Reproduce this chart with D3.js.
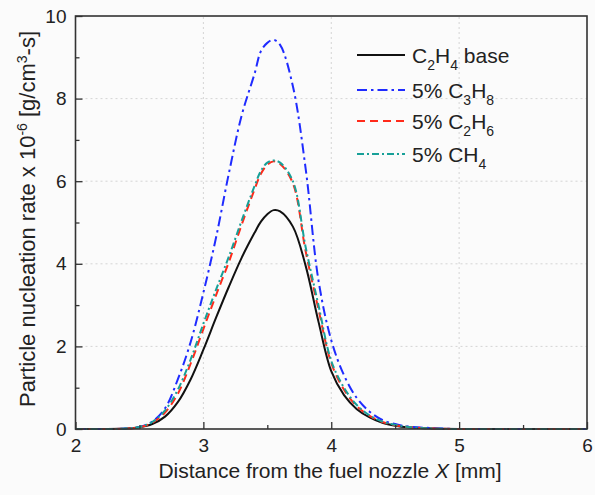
<!DOCTYPE html>
<html>
<head>
<meta charset="utf-8">
<script src="https://cdn.jsdelivr.net/npm/d3@7"></script>
<style>
  body { margin: 0; background: #fbfbfb; }
  svg { display: block; }
  text { font-family: "Liberation Sans", Arial, sans-serif; fill: #222; }
</style>
</head>
<body>
<div id="chart"></div>
<script>
// distance from nozzle [mm]
var xs = [2.0, 2.2, 2.4, 2.5, 2.6, 2.7, 2.8, 2.9, 3.0, 3.1, 3.2, 3.3, 3.4, 3.45, 3.5, 3.55, 3.6, 3.7, 3.8, 3.9, 4.0, 4.1, 4.2, 4.3, 4.4, 4.5, 4.6, 4.8, 5.0, 5.5, 6.0];

// nucleation rate x 1e-6
var baseC2H4 = [0, 0, 0.01, 0.04, 0.12, 0.3, 0.65, 1.2, 1.92, 2.7, 3.45, 4.15, 4.75, 5.02, 5.2, 5.3, 5.27, 4.9, 3.95, 2.6, 1.4, 0.82, 0.48, 0.28, 0.15, 0.08, 0.04, 0.01, 0, 0, 0];
var addC3H8  = [0, 0, 0.01, 0.05, 0.18, 0.5, 1.2, 2.1, 3.3, 4.65, 6.2, 7.6, 8.6, 9.15, 9.35, 9.42, 9.3, 8.3, 6.3, 3.6, 2.15, 1.3, 0.75, 0.42, 0.22, 0.12, 0.06, 0.02, 0, 0, 0];
var addC2H6  = [0, 0, 0.01, 0.04, 0.15, 0.4, 0.85, 1.58, 2.42, 3.25, 4.05, 4.95, 5.8, 6.18, 6.4, 6.48, 6.42, 5.95, 4.3, 2.9, 1.6, 0.95, 0.55, 0.32, 0.17, 0.09, 0.05, 0.01, 0, 0, 0];
var addCH4   = [0, 0, 0.01, 0.05, 0.17, 0.45, 0.95, 1.68, 2.55, 3.38, 4.18, 5.05, 5.88, 6.25, 6.45, 6.5, 6.45, 6.0, 4.4, 3.0, 1.65, 1.0, 0.58, 0.33, 0.18, 0.1, 0.05, 0.01, 0, 0, 0];

var xTicks = [2, 3, 4, 5, 6];
var yTicks = [0, 2, 4, 6, 8, 10];

var series = [
  { name: [["C", ""], ["2", "sub"], ["H", ""], ["4", "sub"], [" base", ""]], values: baseC2H4, color: "#111", dash: null },
  { name: [["5% C", ""], ["3", "sub"], ["H", ""], ["8", "sub"]], values: addC3H8, color: "#1f2bff", dash: "10,4,2.5,4" },
  { name: [["5% C", ""], ["2", "sub"], ["H", ""], ["6", "sub"]], values: addC2H6, color: "#ff2a1a", dash: "8,5" },
  { name: [["5% CH", ""], ["4", "sub"]], values: addCH4, color: "#17a098", dash: "7,3,2,3" }
];

var width = 595, height = 495
  , margin = { left: 75.5, right: 8, top: 16, bottom: 66 };

var svg = d3.select("#chart").append("svg")
  .attr("width", width)
  .attr("height", height);

var x = d3.scaleLinear().domain([2, 6]).range([margin.left, width - margin.right]);
var y = d3.scaleLinear().domain([0, 10]).range([height - margin.bottom, margin.top]);

// dotted grid
svg.append("g").selectAll("line.gx")
  .data([3, 4, 5]).enter().append("line")
  .attr("x1", function(d) { return x(d); }).attr("x2", function(d) { return x(d); })
  .attr("y1", y(0)).attr("y2", y(10))
  .attr("stroke", "#d4d4d4").attr("stroke-dasharray", "2,3");
svg.append("g").selectAll("line.gy")
  .data([2, 4, 6, 8]).enter().append("line")
  .attr("x1", x(2)).attr("x2", x(6))
  .attr("y1", function(d) { return y(d); }).attr("y2", function(d) { return y(d); })
  .attr("stroke", "#d4d4d4").attr("stroke-dasharray", "2,3");

// curves
var line = d3.line()
  .x(function(d) { return x(d[0]); })
  .y(function(d) { return Math.min(y(d[1]), y(0)); })
  .curve(d3.curveCatmullRom.alpha(0.5));

series.forEach(function(s) {
  svg.append("path")
    .datum(xs.map(function(v, i) { return [v, s.values[i]]; }))
    .attr("fill", "none")
    .attr("stroke", s.color)
    .attr("stroke-width", 2)
    .attr("stroke-dasharray", s.dash)
    .attr("d", line);
});

// axes, ticks pointing inward
svg.append("g")
  .attr("transform", "translate(0," + y(0) + ")")
  .call(d3.axisBottom(x).tickValues(xTicks).tickSize(-7).tickPadding(10).tickFormat(d3.format("d")));
svg.append("g")
  .attr("transform", "translate(" + x(2) + ",0)")
  .call(d3.axisLeft(y).tickValues(yTicks).tickSize(-7).tickPadding(9).tickFormat(d3.format("d")));

svg.append("g").attr("transform", "translate(0," + y(0) + ")")
  .call(d3.axisBottom(x).tickValues([2.5, 3.5, 4.5, 5.5]).tickSize(-4).tickFormat(""));
svg.append("g").attr("transform", "translate(" + x(2) + ",0)")
  .call(d3.axisLeft(y).tickValues([1, 3, 5, 7, 9]).tickSize(-4).tickFormat(""));

svg.selectAll(".domain").remove();
svg.selectAll(".tick line").attr("stroke", "#333").attr("stroke-width", 1.3);
svg.selectAll(".tick text").style("font-size", "19px").attr("fill", "#222")
  .style("font-family", "'Liberation Sans', Arial, sans-serif");

// frame
svg.append("rect")
  .attr("x", x(2)).attr("y", y(10))
  .attr("width", x(6) - x(2)).attr("height", y(0) - y(10))
  .attr("fill", "none").attr("stroke", "#333").attr("stroke-width", 1.6);

// axis titles
var xt = svg.append("text")
  .attr("x", 330)
  .attr("y", 478)
  .attr("text-anchor", "middle")
  .style("font-size", "21px");
xt.append("tspan").text("Distance from the fuel nozzle ");
xt.append("tspan").style("font-style", "italic").text("X");
xt.append("tspan").text(" [mm]");

var yt = svg.append("text")
  .attr("transform", "translate(35,219) rotate(-90)")
  .attr("text-anchor", "middle")
  .style("font-size", "22px");
yt.append("tspan").text("Particle nucleation rate x 10");
yt.append("tspan").attr("dy", -8).style("font-size", "14px").text("-6");
yt.append("tspan").attr("dy", 8).text(" [g/cm");
yt.append("tspan").attr("dy", -8).style("font-size", "14px").text("3");
yt.append("tspan").attr("dy", 8).text("-s]");

// legend
var legend = svg.append("g").attr("transform", "translate(357,55)");
series.forEach(function(s, i) {
  var row = legend.append("g").attr("transform", "translate(0," + [0, 35, 66, 99][i] + ")");
  row.append("line")
    .attr("x1", 0).attr("x2", 48)
    .attr("stroke", s.color).attr("stroke-width", 2)
    .attr("stroke-dasharray", s.dash);
  var t = row.append("text").attr("x", 55).attr("y", 8).style("font-size", "21px");
  var shifted = false;
  s.name.forEach(function(p) {
    var ts = t.append("tspan").text(p[0]);
    if (p[1] === "sub") {
      ts.attr("dy", 7).style("font-size", "14px");
      shifted = true;
    } else if (shifted) {
      ts.attr("dy", -7);
      shifted = false;
    }
  });
});
</script>
</body>
</html>
